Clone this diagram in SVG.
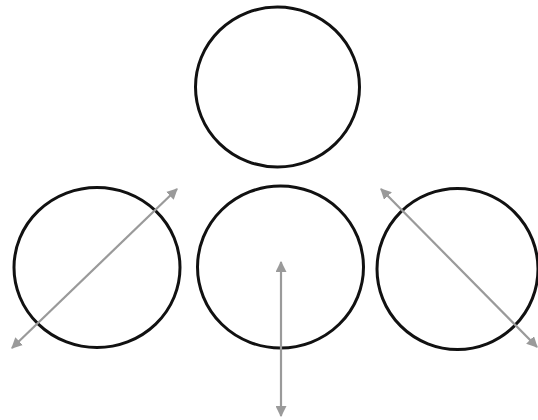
<svg xmlns="http://www.w3.org/2000/svg" width="538" height="420" viewBox="0 0 538 420">
<style>
.c{fill:none;stroke:#111;stroke-width:3}
.a{stroke:#9a9a9a;stroke-width:2.2;fill:none;marker-start:url(#h);marker-end:url(#h)}
</style>
<defs>
<marker id="h" viewBox="0 0 10 10" refX="9" refY="5" markerWidth="5" markerHeight="5" orient="auto-start-reverse">
<path d="M0,0 L10,5 L0,10 z" fill="#9a9a9a"/>
</marker>
</defs>
<rect width="538" height="420" fill="#fff"/>
<g id="top"><ellipse class="c" cx="277.5" cy="87" rx="82" ry="80"/></g>
<g id="left"><ellipse class="c" cx="97" cy="267.5" rx="83" ry="80"/></g>
<g id="middle"><ellipse class="c" cx="280.5" cy="267" rx="83" ry="81"/></g>
<g id="right"><ellipse class="c" cx="457.5" cy="269" rx="80.5" ry="80.5"/></g>
<g id="connectors">
<line class="a" x1="12" y1="348" x2="177" y2="189"/>
<line class="a" x1="281" y1="262" x2="281" y2="416"/>
<line class="a" x1="381" y1="189" x2="537" y2="347"/>
</g>
</svg>
